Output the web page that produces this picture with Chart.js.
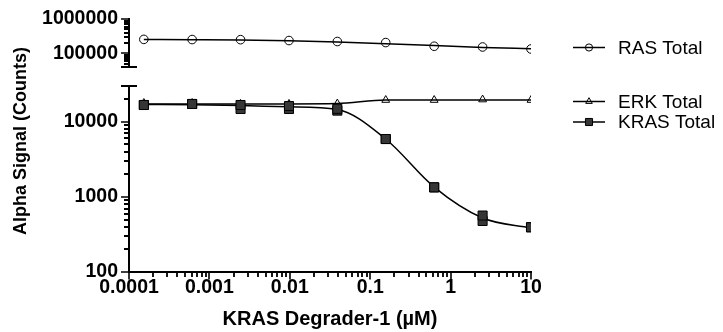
<!DOCTYPE html>
<html>
<head>
<meta charset="utf-8">
<script src="https://cdn.jsdelivr.net/npm/chart.js@4/dist/chart.umd.min.js"></script>
<style>
  html, body { margin: 0; padding: 0; background: #fff; }
</style>
</head>
<body>
<canvas id="chart" width="723" height="332"></canvas>
<script>
// Concentrations of KRAS Degrader-1 (µM), 4-fold dilution
const concentrations = [0.000153, 0.00061, 0.00244, 0.00977, 0.039, 0.156, 0.625, 2.5, 10];

// Measured signal (counts)
const rasTotal   = [255000, 252000, 250000, 236000, 221000, 206000, 161000, 153000, 134000];
const erkTotal   = [17800, 17800, 17300, 17300, 17500, 19500, 19500, 19800, 19500];
const krasTotalA = [16750, 17280, 16750, 16240, 14900, 5900, 1340, 565, 394];
const krasTotalB = [16750, 17280, 14820, 14820, 14100, 5900, 1340, 478, 394];

// Fitted curves at the same concentrations
const rasFit  = [255000, 249500, 242900, 231500, 213500, 191500, 168400, 149100, 136500];
const erkFit  = [17300, 17300, 17300, 17300, 17500, 19500, 19500, 19500, 19500];
const krasFit = [17010, 16850, 16440, 15850, 14590, 5900, 1350, 524, 385];

// Labels
const seriesLabels      = ['RAS Total', 'ERK Total', 'KRAS Total'];
const xTickLabels       = ['0.0001', '0.001', '0.01', '0.1', '1', '10'];
const yTopTickLabels    = ['100000', '1000000'];
const yBottomTickLabels = ['100', '1000', '10000'];

// Axis ranges (the y axis is broken into two log segments)
const X_RANGE = [0.0001, 10];
const Y_TOP_RANGE = [40000, 1000000];
const Y_BOTTOM_RANGE = [100, 30000];

const FONT = 'Arial, "Liberation Sans", Helvetica, sans-serif';
const tickFont = { family: FONT, size: 19.5, weight: 'bold', lineHeight: 1 };

// 1..9 x 10^n tick positions between min and max
const logTicks = ([min, max]) => {
  const out = [];
  for (let e = Math.floor(Math.log10(min)); e <= Math.ceil(Math.log10(max)); e++) {
    for (let m = 1; m <= 9; m++) {
      const v = parseFloat((m * Math.pow(10, e)).toPrecision(6));
      if (v >= min * 0.9999 && v <= max * 1.0001) out.push(v);
    }
  }
  return out;
};

const labelFrom = (labels) => (value) => labels.includes(String(value)) ? String(value) : '';

const toPoints = (ys) => concentrations.map((c, i) => ({ x: c, y: ys[i] }));

const fitLine = (ys, yAxisID) => ({
  data: toPoints(ys),
  yAxisID,
  borderColor: '#000',
  borderWidth: 1.5,
  pointRadius: 0,
  cubicInterpolationMode: 'monotone',
  order: 5,
});

const markers = (ys, yAxisID, pointStyle, radius, fill, order) => ({
  data: toPoints(ys),
  yAxisID,
  showLine: false,
  pointStyle,
  pointRadius: radius,
  pointBackgroundColor: fill,
  pointBorderColor: '#000',
  pointBorderWidth: 1,
  order,
});

const datasets = [
  fitLine(rasFit, 'yTop'),
  fitLine(erkFit, 'yBottom'),
  fitLine(krasFit, 'yBottom'),
  markers(rasTotal, 'yTop', 'circle', 4.3, 'rgba(0,0,0,0)', 2),
  markers(erkTotal, 'yBottom', 'triangle', 4.5, 'rgba(0,0,0,0)', 2),
  markers(krasTotalA, 'yBottom', 'rect', 6.4, '#363636', 0),
  markers(krasTotalB, 'yBottom', 'rect', 6.4, '#363636', 0),
];

// Chart.js own tick marks are hidden; all marks are drawn by the plugin below
const yAxisCommon = (range, labels) => ({
  type: 'logarithmic',
  position: 'left',
  stack: 'y',
  min: range[0],
  max: range[1],
  afterBuildTicks: (s) => { s.ticks = logTicks(range).map(v => ({ value: v })); },
  afterFit: (s) => { s.width = 129; },
  border: { display: true, color: '#000', width: 2 },
  grid: { display: true, drawOnChartArea: false, drawTicks: true, tickLength: 4, tickColor: 'rgba(0,0,0,0)', color: 'rgba(0,0,0,0)' },
  ticks: { autoSkip: false, padding: 7, color: '#000', font: tickFont, callback: labelFrom(labels) },
});

const legendRows = [
  { label: seriesLabels[0], style: 'circle',   radius: 3.6, fill: 'rgba(0,0,0,0)', y: 47.5 },
  { label: seriesLabels[1], style: 'triangle', radius: 3.8, fill: 'rgba(0,0,0,0)', y: 101.5 },
  { label: seriesLabels[2], style: 'rect',     radius: 5,   fill: '#363636',       y: 122 },
];

// Extra drawing: tick marks (long for labelled), axis-break caps, y title, legend
const decorations = {
  id: 'decorations',
  afterDraw(chart) {
    const { ctx, chartArea, scales } = chart;
    const { x, yTop, yBottom } = scales;
    const axisX = chartArea.left;
    ctx.save();
    const major = new Path2D();
    const minor = new Path2D();
    [[yTop, Y_TOP_RANGE, yTopTickLabels], [yBottom, Y_BOTTOM_RANGE, yBottomTickLabels]].forEach(([s, range, labels]) => {
      logTicks(range).forEach(v => {
        const py = Math.round(s.getPixelForValue(v));
        const isMajor = labels.includes(String(v));
        const p = isMajor ? major : minor;
        p.moveTo(axisX, py);
        p.lineTo(axisX - (isMajor ? 8 : 5), py);
      });
    });
    logTicks(X_RANGE).forEach(v => {
      const px = Math.round(x.getPixelForValue(v));
      const isMajor = xTickLabels.includes(String(v));
      const p = isMajor ? major : minor;
      p.moveTo(px, chartArea.bottom);
      p.lineTo(px, chartArea.bottom + (isMajor ? 7.5 : 5));
    });
    ctx.strokeStyle = '#000';
    ctx.lineWidth = 1.6;
    ctx.stroke(major);
    ctx.lineWidth = 1.8;
    ctx.stroke(minor);

    // break caps
    ctx.lineWidth = 2;
    ctx.beginPath();
    [yTop.bottom, yBottom.top].forEach(py => {
      ctx.moveTo(axisX - 8, py);
      ctx.lineTo(axisX + 8, py);
    });
    ctx.stroke();

    // y title
    ctx.fillStyle = '#000';
    ctx.font = `bold 18px ${FONT}`;
    ctx.textAlign = 'center';
    ctx.textBaseline = 'middle';
    ctx.save();
    ctx.translate(21.5, 141);
    ctx.rotate(-Math.PI / 2);
    ctx.fillText('Alpha Signal (Counts)', 0, 0);
    ctx.restore();

    // legend
    ctx.font = `19px ${FONT}`;
    ctx.textAlign = 'left';
    legendRows.forEach(row => {
      ctx.lineWidth = 1.5;
      ctx.beginPath();
      ctx.moveTo(573, row.y);
      ctx.lineTo(605, row.y);
      ctx.stroke();
      ctx.lineWidth = 1;
      ctx.fillStyle = row.fill;
      Chart.helpers.drawPoint(ctx, { pointStyle: row.style, radius: row.radius, borderWidth: 1, rotation: 0 }, 589, row.y);
      ctx.fillStyle = '#000';
      ctx.fillText(row.label, 618, row.y + 1);
    });
    ctx.restore();
  },
};

new Chart(document.getElementById('chart'), {
  type: 'line',
  data: { datasets },
  options: {
    responsive: false,
    animation: false,
    devicePixelRatio: 1,
    layout: { padding: { left: 0, top: 19, right: 192, bottom: 0 } },
    plugins: { legend: { display: false }, tooltip: { enabled: false } },
    scales: {
      x: {
        type: 'logarithmic',
        min: X_RANGE[0],
        max: X_RANGE[1],
        afterBuildTicks: (s) => { s.ticks = logTicks(X_RANGE).map(v => ({ value: v })); },
        afterFit: (s) => { s.height = 60; },
        border: { display: true, color: '#000', width: 2 },
        grid: { display: true, drawOnChartArea: false, drawTicks: true, tickLength: 4, tickColor: 'rgba(0,0,0,0)', color: 'rgba(0,0,0,0)' },
        ticks: { autoSkip: false, maxRotation: 0, minRotation: 0, padding: 2, color: '#000', font: tickFont, callback: labelFrom(xTickLabels) },
        title: {
          display: true,
          text: 'KRAS Degrader-1 (µM)',
          color: '#000',
          font: { family: FONT, size: 20, weight: 'bold' },
          padding: { top: 0, bottom: 1 },
        },
      },
      yBottom: { ...yAxisCommon(Y_BOTTOM_RANGE, yBottomTickLabels), stackWeight: 186 },
      yGap: {
        type: 'linear',
        position: 'left',
        stack: 'y',
        stackWeight: 19,
        display: false,
        afterFit: (s) => { s.width = 129; },
      },
      yTop: { ...yAxisCommon(Y_TOP_RANGE, yTopTickLabels), stackWeight: 48 },
    },
  },
  plugins: [decorations],
});
</script>
</body>
</html>
